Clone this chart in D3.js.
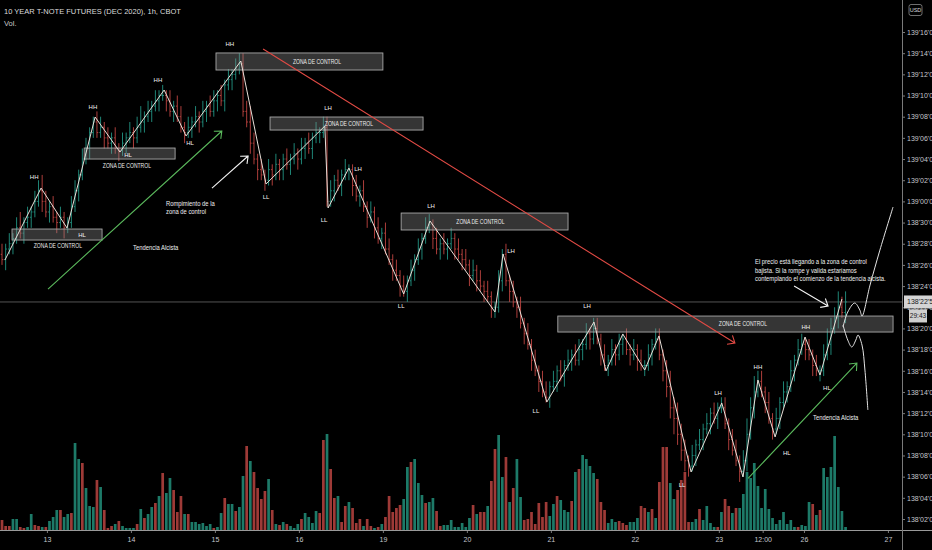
<!DOCTYPE html>
<html>
<head>
<meta charset="utf-8">
<script src="https://cdn.jsdelivr.net/npm/d3@7"></script>
<style>
  body { margin: 0; background: #000; }
  svg { display: block; }
  text { font-family: "Liberation Sans", Arial, sans-serif; }
</style>
</head>
<body>
<svg width="932" height="550"></svg>
<script>
// 10Y T-Note futures, 1h bars. prices in 32nds above 138 (22.5 = 138'22'5)
var firstOpen = 27;
var closes = [
  26.5,27.5,28,28.5,29.5,29,30,30.5,31,32,
  33,32,31,31.5,30.5,30,30.5,29.5,30,31.5,
  33,34.5,36,37,38.5,39.5,38.5,39,38,37.5,
  38,37,36.8,37.5,38,38.5,38,39,39.5,40,
  40.5,41,41.5,42,42,41.5,40.5,41,40,39,
  38.5,39,39.5,40,39.5,40.5,41,40.5,41.5,42,
  41.5,43,43.5,44,44.5,45,40.5,39.5,37.5,36,
  35,34.5,34,35,34.5,35.5,35,36,35.5,36,
  36.5,36,37,37.5,37,38,38.5,38.5,39,32,
  33,34,33.5,34.5,35,35,33.5,32.5,33,31.5,
  30.5,31,29.5,28.5,29,27.5,26.5,25.5,25,24,
  23.5,24.5,25.5,26.5,27.5,28.5,29.5,29.8,28.5,27.5,
  28,27.5,28,28.5,27.5,27,26.5,26,25,25.5,
  24.5,24,23.5,23,22,22,24.5,27,24.5,23.5,
  22.5,22,20.5,19.5,18.5,17,16,15,14,13.5,
  14.5,15,16,15.5,16.5,17,17.5,17,18,18.5,
  19.5,19,20,19,17.5,16.5,17,18,17.5,18.5,
  19,18,17.5,18,17,16.5,16.5,17.5,18.5,19,
  17.5,16,14.5,12.5,11.5,10,8.5,7.5,7,8,
  9,9.5,10.5,11,12,11.5,12.5,12.5,11,9.5,
  8.5,7.5,6.5,7.5,10,12.5,14,15,14,13,
  11.5,10.5,11.5,13,14,14.5,16,17,18,18.5,
  18,17.5,16.5,16,16,17.5,18.5,20,21,22,
  21.5,22.5
];
// wick beyond the body, in 64ths
var hiWick = [
  2,1,2,1,2,3,1,2,1,2,2,3,2,1,2,1,2,1,1,2,2,1,2,
  2,1,1,2,2,1,2,1,2,1,2,1,2,1,2,3,1,2,1,2,1,2,1,
  2,1,2,2,1,2,1,2,1,2,1,2,2,1,2,1,2,1,2,2,2,2,3,
  2,1,2,1,2,1,2,1,1,2,1,2,1,2,1,2,1,2,1,2,2,2,1,
  2,1,2,1,1,2,1,2,1,2,1,2,1,2,2,1,2,1,2,1,2,1,2,
  1,2,2,1,2,1,2,1,2,1,2,1,2,1,2,1,2,1,2,1,1,2,1,
  2,1,2,1,2,1,2,1,2,1,2,2,1,2,1,2,1,2,1,2,2,1,2,
  1,2,2,1,2,1,2,1,2,1,2,1,2,1,2,1,2,1,2,2,1,2,3,
  2,3,2,2,1,2,1,2,1,2,1,2,1,2,2,1,2,2,1,2,3,2,3,
  2,2,1,2,1,2,1,2,1,2,1,2,2,1,2,1,2,1,2,3,2,2,3,
  2,2
];
var loWick = [
  1,2,1,2,1,1,2,1,2,1,1,2,1,2,1,2,1,2,1,1,1,2,1,
  1,2,1,1,1,2,1,2,1,2,1,2,1,2,1,1,2,1,2,1,2,1,2,
  1,2,1,1,2,1,2,1,2,1,2,1,1,2,1,2,1,2,1,1,1,1,2,
  1,2,1,2,1,2,1,2,2,1,2,1,2,1,2,1,2,1,2,1,1,1,2,
  1,2,1,2,2,1,2,1,2,1,2,1,2,1,1,2,1,2,1,2,1,2,1,
  2,1,1,2,1,2,1,2,1,2,1,2,1,2,1,2,1,2,1,2,2,1,2,
  1,2,1,2,1,2,1,2,1,2,1,1,2,1,2,1,2,1,2,1,1,2,1,
  2,1,1,2,1,2,1,2,1,2,1,2,1,2,1,2,1,2,1,1,2,2,2,
  3,2,2,2,2,1,2,1,2,1,2,1,2,1,1,2,1,1,2,1,2,1,2,
  1,1,2,1,2,1,2,1,2,1,2,1,1,2,1,2,1,2,1,1,2,1,2,
  1,2
];
var volumes = [
  10,4,4,11,11,3,2,3,16,5, 4,3,3,9,13,20,20,13,16,17,
  87,71,67,42,24,23,50,43,20,2, 4,6,9,4,2,2,2,6,21,12,
  16,23,27,34,57,37,52,40,18,34, 16,16,8,8,6,7,4,6,2,3,
  17,32,26,26,19,23,54,84,69,58, 42,31,39,51,20,6,5,8,6,4,
  2,6,11,17,13,7,19,17,90,96, 61,32,34,8,24,28,22,7,11,4,
  11,4,2,3,6,13,34,18,22,25, 31,63,68,71,47,35,27,28,32,19,
  4,5,5,10,3,3,7,
  3,12,25,16,18,18,24,49,81,95, 53,73,28,42,71,33,10,11,18,6,
  27,13,28,14,26,34,30,20,18,29, 58,61,75,71,64,57,51,28,20,7,
  11,8,9,7,5,8,8,12,24,22, 18,21,12,48,83,83,47,31,40,50,
  58,8,8,11,21,10,24,7,3,3, 18,31,24,17,22,22,36,58,52,67,
  44,22,41,21,12,6,10,18,6,10, 3,3,5,4,28,26,15,20,62,53,
  63,94,43,19,3
];
var volumeUp = [
  0,0,0,1,1,0,0,1,1,0, 0,1,0,1,1,1,0,1,1,0,
  1,1,0,1,1,1,0,1,0,0, 0,1,0,1,1,1,1,0,1,0,
  1,1,0,1,0,1,1,0,0,0, 1,0,1,1,1,1,1,1,0,1,
  1,0,1,1,0,1,1,0,1,0, 0,0,0,1,0,1,0,1,0,1,
  1,1,0,1,1,1,1,0,0,1, 0,0,1,0,0,1,0,0,0,1,
  0,0,1,0,1,0,0,0,0,0, 1,1,0,1,1,1,0,1,1,0,
  0,1,1,1,1,1,1,
  1,1,0,1,0,0,1,0,0,1, 1,0,1,0,1,1,0,0,0,0,
  0,0,0,1,1,0,1,1,1,0, 1,0,1,1,1,1,0,0,0,1,
  1,1,0,0,0,1,1,1,0,0, 1,0,1,0,0,0,1,1,0,0,
  0,0,1,1,0,1,1,1,1,0, 1,0,0,1,0,1,1,1,1,1,
  1,1,1,1,1,1,1,1,1,1, 1,0,1,1,1,0,1,0,1,1,
  1,1,1,1,1
];
var lastPrice = 22.5;
var priceTicks = [2,4,6,8,10,12,14,16,18,20,22,24,26,28,30,32,34,36,38,40,42,44,46,48];
var dayTicks = [12.3,35.3,58.3,81.3,104.3,127.3,150.3,173.3,196.3,208.3,219.6,242.6];
var dayLabels = ["13","14","15","16","19","20","21","22","23","12:00","26","27"];

// drawings: [bar index, price]
var zigzag = [[0.8,26.46],[10.7,33.26],[17.8,29.49],[25.5,39.97],[32.3,36.66],[44.4,42.52],[50.4,38.18],
  [65.4,45.26],[72.3,33.64],[88.4,39.12],[89.3,31.38],[95,35.15],[110,23.25],[117.2,30.15],[135,21.55],
  [137.2,27.03],[149.2,13.05],[162.1,20.61],[165.4,15.98],[170,19.47],[176,16.07],[179.9,19.29],
  [188.7,6.44],[197.1,12.96],[202.9,5.97],[207,15.13],[211.7,9.75],[219.9,19.19],[224,15.6],[230,22.78]];
var bullPath = [[230.3,20.14],[231.6,21.55],[233.5,22.4],[234.9,21.74],[235.5,21.17],[237.7,24.1],[240.4,27.4],[244,31.47]];
var bearPath = [[230.3,20.32],[231.6,18.9],[232.7,18.25],[233.8,18.9],[234.4,19.38],[235.5,18.43],[236.3,16.07],[237.1,12.3]];
// zones: [from bar, to bar, top price, bottom price]
var zones = [[2.74,27.4,29.39,28.35],[22.5,47.4,37.04,36.0],[58.6,104.3,46.02,44.41],
  [73.4,115.3,39.97,38.74],[109.3,155.0,30.9,29.3],[152.2,244.0,21.17,19.66]];
var zoneTexts = [[15.3,27.79],[34.2,35.34],[86.25,45.21],[95.0,39.36],[131.0,30.1],[202.9,20.42]];
var pivots = [[8.8,34.3,"HH"],[24.9,40.92,"HH"],[42.7,43.47,"HH"],[62.4,46.87,"HH"],[21.9,28.83,"HL"],
  [34.5,36.38,"HL"],[51.5,37.52,"HL"],[72.3,32.41,"LL"],[89.3,40.82,"LH"],[88.2,30.24,"LL"],
  [97.5,35.06,"LH"],[117.5,31.56,"LH"],[109.3,22.12,"LL"],[139.4,27.31,"LH"],[160.2,22.12,"LH"],
  [146.2,12.2,"LL"],[196.1,13.9,"LH"],[186.2,5.21,"LL"],[207,16.36,"HH"],[220.1,20.14,"HH"],
  [225.9,14.37,"HL"],[214.9,8.23,"HL"]];
var notes = [[44.9,31.75,"Rompimiento de la"],[44.9,30.99,"zona de control"],[35.9,27.6,"Tendencia Alcista"],
  [222.1,11.54,"Tendencia Alcista"],[206.2,26.27,"El precio está llegando a la zona de control"],
  [206.2,25.47,"bajista. Si la rompe y valida estaríamos"],
  [206.2,24.67,"contemplando el comienzo de la tendencia alcista."]];
var redArrows = [[[71.5,46.39],[200.7,18.62]]];
var greenArrows = [[[12.6,23.72],[60.2,38.65]],[[204.3,5.84],[234.1,16.73]]];
var whiteArrows = [[[57.5,33.26],[67.4,36.29]],[[216.9,24.0],[226.2,22.12]]];

var svg = d3.select("svg"),
    width = +svg.attr("width"),
    height = +svg.attr("height"),
    plotR = 902,
    plotB = 530;

var up = "#239483", down = "#bf4542",
    volUpCol = "#1d7a68", volDownCol = "#9e3a37",
    axisCol = "#7a7a7a", labelCol = "#c4c6cc";

var x = d3.scaleLinear().domain([0, 245]).range([2, 896.7]);
var y = d3.scaleLinear().domain([2, 48]).range([519, 32]);
var vy = d3.scaleLinear().domain([0, 100]).range([plotB, plotB - 100]);

function fmt32(v) {
    var whole = 138 + Math.floor(v / 32), r = v - 32 * Math.floor(v / 32);
    return whole + "'" + String(Math.floor(r)).padStart(2, "0") + "'" + Math.round((r % 1) * 10);
}

// squeeze text a bit, the screenshot font is narrow
function condense(sel, k) {
    sel.each(function() {
        var w = this.getComputedTextLength();
        d3.select(this).attr("textLength", w * k).attr("lengthAdjust", "spacingAndGlyphs");
    });
}

svg.append("rect").attr("width", width).attr("height", height).attr("fill", "#000");
svg.append("defs").append("clipPath").attr("id", "plot")
    .append("rect").attr("width", plotR).attr("height", plotB);
var plot = svg.append("g").attr("clip-path", "url(#plot)");

var bars = closes.map(function(c, i) {
    var o = i ? closes[i - 1] : firstOpen;
    return { i: i, o: o, c: c,
        h: Math.max(o, c) + hiWick[i] / 2,
        l: Math.min(o, c) - loWick[i] / 2,
        v: volumes[i], vu: volumeUp[i] };
});

// volume
plot.append("g").selectAll("rect")
    .data(bars)
    .enter().append("rect")
    .attr("x", function(d) { return x(d.i) - 1.35; })
    .attr("width", 2.7)
    .attr("y", function(d) { return vy(d.v); })
    .attr("height", function(d) { return plotB - vy(d.v); })
    .attr("fill", function(d) { return d.vu ? volUpCol : volDownCol; });

// last price line
plot.append("line")
    .attr("x1", 0).attr("x2", plotR)
    .attr("y1", y(lastPrice)).attr("y2", y(lastPrice))
    .attr("stroke", "#6a6a6a").attr("stroke-width", 0.8);

// OHLC bars
plot.append("g").selectAll("path")
    .data(bars)
    .enter().append("path")
    .attr("d", function(d) {
        var cx = x(d.i);
        return "M" + cx + "," + y(d.h) + "V" + y(d.l) +
            "M" + (cx - 1.3) + "," + y(d.o) + "H" + cx +
            "M" + cx + "," + y(d.c) + "H" + (cx + 1.3);
    })
    .attr("stroke", function(d) { return d.c >= d.o ? up : down; })
    .attr("stroke-width", 0.9)
    .attr("fill", "none");

// zonas de control
plot.append("g").selectAll("rect")
    .data(zones)
    .enter().append("rect")
    .attr("x", function(d) { return x(d[0]); })
    .attr("y", function(d) { return y(d[2]); })
    .attr("width", function(d) { return x(d[1]) - x(d[0]); })
    .attr("height", function(d) { return y(d[3]) - y(d[2]); })
    .attr("fill", "rgba(140,140,140,0.38)")
    .attr("stroke", "#a8a8a8")
    .attr("stroke-width", 0.9);

// zigzag swing lines
var line = d3.line().x(function(d) { return x(d[0]); }).y(function(d) { return y(d[1]); });
plot.append("path").datum(zigzag).attr("d", line)
    .attr("fill", "none").attr("stroke", "#e9dfd8").attr("stroke-width", 1);

var curve = d3.line().curve(d3.curveCatmullRom)
    .x(function(d) { return x(d[0]); }).y(function(d) { return y(d[1]); });
[bullPath, bearPath].forEach(function(p) {
    plot.append("path").datum(p).attr("d", curve)
        .attr("fill", "none").attr("stroke", "#e4e4e4").attr("stroke-width", 1);
});

function arrow(a, color) {
    var x1 = x(a[0][0]), y1 = y(a[0][1]), x2 = x(a[1][0]), y2 = y(a[1][1]);
    var ang = Math.atan2(y2 - y1, x2 - x1), L = 8, sp = 0.7;
    var p = d3.path();
    p.moveTo(x1, y1); p.lineTo(x2, y2);
    p.moveTo(x2 - L * Math.cos(ang - sp), y2 - L * Math.sin(ang - sp));
    p.lineTo(x2, y2);
    p.lineTo(x2 - L * Math.cos(ang + sp), y2 - L * Math.sin(ang + sp));
    plot.append("path").attr("d", p.toString())
        .attr("fill", "none").attr("stroke", color).attr("stroke-width", 1.1);
}
redArrows.forEach(function(a) { arrow(a, "#e04a44"); });
greenArrows.forEach(function(a) { arrow(a, "#5ab85c"); });
whiteArrows.forEach(function(a) { arrow(a, "#f2f2f2"); });

// texts
var zt = plot.append("g").selectAll("text")
    .data(zoneTexts)
    .enter().append("text")
    .attr("x", function(d) { return x(d[0]); })
    .attr("y", function(d) { return y(d[1]); })
    .attr("dy", "0.35em")
    .attr("text-anchor", "middle")
    .attr("font-size", 7)
    .attr("fill", "#ececec")
    .text("ZONA DE CONTROL");
condense(zt, 0.72);

plot.append("g").selectAll("text")
    .data(pivots)
    .enter().append("text")
    .attr("x", function(d) { return x(d[0]); })
    .attr("y", function(d) { return y(d[1]); })
    .attr("dy", "0.35em")
    .attr("text-anchor", "middle")
    .attr("font-size", 6)
    .attr("fill", "#f2f2f2")
    .text(function(d) { return d[2]; });

var nt = plot.append("g").selectAll("text")
    .data(notes)
    .enter().append("text")
    .attr("x", function(d) { return x(d[0]); })
    .attr("y", function(d) { return y(d[1]); })
    .attr("dy", "0.35em")
    .attr("font-size", 6.5)
    .attr("fill", "#f0f0f0")
    .text(function(d) { return d[2]; });
condense(nt, 0.9);

// axes
var yAxis = svg.append("g")
    .attr("transform", "translate(" + plotR + ",0)")
    .call(d3.axisRight(y).tickValues(priceTicks).tickFormat(fmt32).tickSize(3).tickPadding(2));
yAxis.select(".domain").remove();
yAxis.selectAll("line").attr("stroke", axisCol);
yAxis.selectAll("text").attr("fill", labelCol).attr("font-size", 7)
    .attr("font-family", "Liberation Sans, Arial, sans-serif");

var xAxis = svg.append("g")
    .attr("transform", "translate(0," + plotB + ")")
    .call(d3.axisBottom(x).tickValues(dayTicks)
        .tickFormat(function(d, i) { return dayLabels[i]; }).tickSize(3).tickPadding(4));
xAxis.select(".domain").remove();
xAxis.selectAll("line").attr("stroke", axisCol);
xAxis.selectAll("text").attr("fill", labelCol).attr("font-size", 7)
    .attr("font-family", "Liberation Sans, Arial, sans-serif");

svg.append("line").attr("x1", 0).attr("x2", width).attr("y1", plotB + 0.5).attr("y2", plotB + 0.5)
    .attr("stroke", "#9a9a9a");
svg.append("line").attr("x1", plotR + 0.5).attr("x2", plotR + 0.5).attr("y1", 0).attr("y2", height)
    .attr("stroke", axisCol);

// last price and countdown tags
var ly = y(lastPrice);
svg.append("rect").attr("x", plotR + 2).attr("y", ly - 6.5).attr("width", 29).attr("height", 13)
    .attr("fill", "#d4d4d4");
svg.append("text").attr("x", plotR + 5).attr("y", ly).attr("dy", "0.35em")
    .attr("font-size", 7).attr("fill", "#1a1a1a").text(fmt32(lastPrice));
svg.append("rect").attr("x", plotR + 7).attr("y", ly + 7.5).attr("width", 18).attr("height", 13)
    .attr("fill", "#cfcfcf");
svg.append("text").attr("x", plotR + 16).attr("y", ly + 14).attr("dy", "0.35em")
    .attr("text-anchor", "middle").attr("font-size", 6.5).attr("fill", "#1a1a1a").text("29:43");

// USD badge
svg.append("rect").attr("x", plotR + 7).attr("y", 4.5).attr("width", 13).attr("height", 11).attr("rx", 2)
    .attr("fill", "#000").attr("stroke", "#8a8a8a").attr("stroke-width", 0.8);
svg.append("text").attr("x", plotR + 13.5).attr("y", 10).attr("dy", "0.35em").attr("text-anchor", "middle")
    .attr("font-size", 5.5).attr("fill", "#d8d8d8").text("USD");

// header
svg.append("text").attr("x", 4).attr("y", 14).attr("font-size", 7.5).attr("fill", "#dcdcdc")
    .text("10 YEAR T-NOTE FUTURES (DEC 2020), 1h, CBOT");
svg.append("text").attr("x", 4).attr("y", 25.5).attr("font-size", 7.5).attr("fill", "#c8c8c8").text("Vol.");
</script>
</body>
</html>
